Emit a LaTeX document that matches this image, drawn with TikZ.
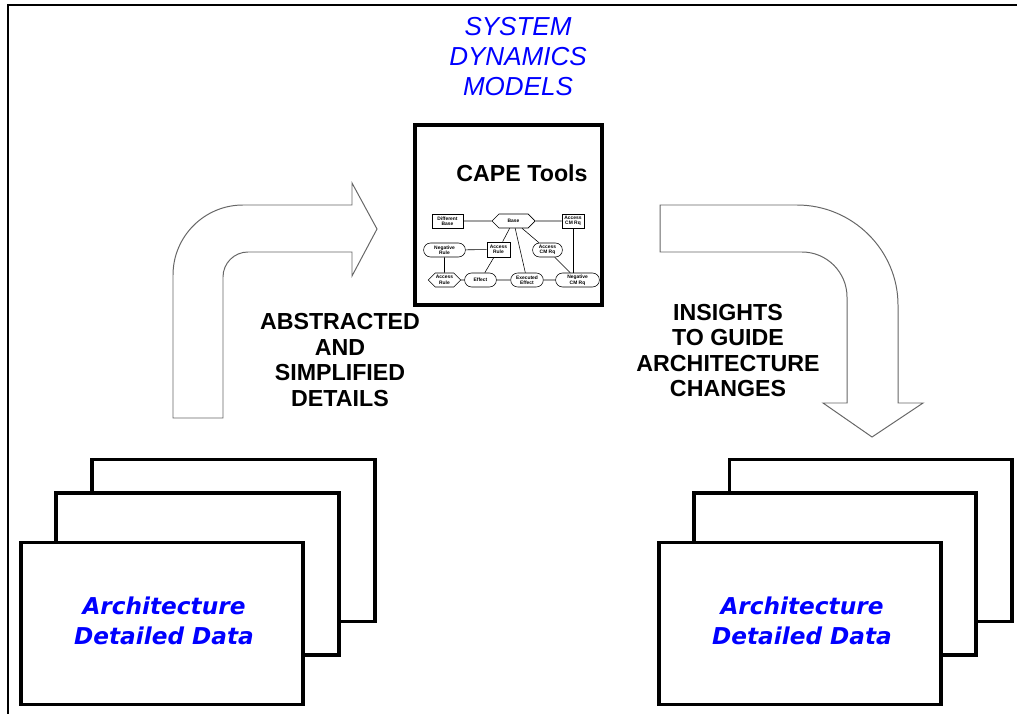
\documentclass[tikz,border=0pt]{standalone}
\usepackage{fontspec}
\setmainfont{Liberation Sans}
\newfontfamily\dvfont{DejaVu Sans}
\usepackage{tikz}
\usetikzlibrary{shapes.misc, shapes.symbols, positioning}
\definecolor{sdblue}{RGB}{0,0,255}
\tikzset{
  page/.style={draw, fill=white, line width=2.8pt, minimum width=7.05cm, minimum height=4.05cm},
  bigarrow/.style={draw=black!60, line width=0.7pt, fill=white},
  caption/.style={font=\fontsize{16.5}{18.1}\selectfont\bfseries, align=center},
  datatext/.style={font=\dvfont\fontsize{16.5}{21.3}\selectfont\bfseries\itshape, text=sdblue, align=center},
  minibox/.style={draw, line width=0.4pt, inner sep=0.5pt, font=\fontsize{3.5}{3.9}\selectfont\bfseries, align=center, minimum height=0.35cm},
  minirnd/.style={minibox, rounded rectangle},
  minihex/.style={minibox, signal, signal to=east and west},
  minilink/.style={line width=0.4pt}
}

\begin{document}
\begin{tikzpicture}[x=0.025cm, y=-0.025cm]
  \useasboundingbox (0,0) rectangle (1017,714);
  % outer frame
  \draw[line width=1.1pt] (8,714) |- (1017,5);

  % heading
  \node[font=\fontsize{18.5}{21.3}\selectfont\itshape, text=sdblue, align=center] (title) at (518,57) {SYSTEM\\DYNAMICS\\MODELS};

  % left stack of data sheets
  \node[page] (lback) at (233.5,540.5) {};
  \node[page] (lmid) at (197.5,574) {};
  \node[page] (lfront) at (162,623.5) {};
  \node[datatext] (ldata) at (164,621) {Architecture\\Detailed Data};

  % right stack of data sheets
  \node[page] (rback) at (870.5,540.5) {};
  \node[page] (rmid) at (835,574) {};
  \node[page] (rfront) at (800,623.5) {};
  \node[datatext] (rdata) at (802,621) {Architecture\\Detailed Data};

  % tool box in the middle
  \node[draw, line width=2.8pt, minimum width=4.675cm, minimum height=4.5cm] (cape) at (508.5,215) {};
  \node[font=\fontsize{16.5}{18.1}\selectfont\bfseries] (capelabel) at (522,173) {CAPE Tools};

  % small model sketch inside the tool box
  \node[minibox, minimum width=0.78cm] (mdiff) at (447.5,221) {Different\\Base};
  \node[minihex, minimum width=1.08cm] (mbase) at (513.5,221) {Base};
  \node[minibox, minimum width=0.55cm] (macca) at (573,221) {Access\\CM Rq};
  \node[minirnd, minimum width=1.08cm] (mnegr) at (444.5,250) {Negative\\Rule};
  \node[minibox, minimum width=0.58cm, minimum height=0.38cm] (maccr) at (498.5,249.5) {Access\\Rule};
  \node[minirnd, minimum width=0.78cm] (maccc) at (547.5,250) {Access\\CM Rq};
  \node[minihex, minimum width=0.63cm] (maccb) at (444.5,280) {Access\\Rule};
  \node[minirnd, minimum width=0.83cm] (meff) at (480.5,280) {Effect};
  \node[minirnd, minimum width=0.85cm] (mexe) at (527,280) {Executed\\Effect};
  \node[minirnd, minimum width=1.13cm] (mnegc) at (577.5,280) {Negative\\CM Rq};

  \draw[minilink] (mdiff) -- (mbase);
  \draw[minilink] (mbase) -- (macca);
  \draw[minilink] (mbase) -- (maccr);
  \draw[minilink] (mbase) -- (mexe);
  \draw[minilink] (mbase) -- (maccc);
  \draw[minilink] (mnegr) -- (maccr);
  \draw[minilink] (mnegr) -- (maccb);
  \draw[minilink] (maccr) -- (meff);
  \draw[minilink] (maccb) -- (meff);
  \draw[minilink] (meff) -- (mexe);
  \draw[minilink] (mexe) -- (mnegc);
  \draw[minilink] (maccc) -- (mnegc);
  \draw[minilink] (macca.south) -- (macca.south |- mnegc.north);

  % bent block arrow going up into the tools
  \draw[bigarrow] (173,418) -- (173,275) .. controls (173,236.4) and (204.4,205) .. (243,205)
    -- (352,205) -- (352,183) -- (377,229) -- (352,276) -- (352,252) -- (248,252)
    .. controls (234.2,252) and (223,263.2) .. (223,277) -- (223,418) -- cycle;
  \node[caption] (abstr) at (340,360) {ABSTRACTED\\AND\\SIMPLIFIED\\DETAILS};

  % bent block arrow coming back down
  \draw[bigarrow] (660,205) -- (797,205) .. controls (852.2,205) and (898,249.8) .. (898,305)
    -- (898,403) -- (923,403) -- (872,437) -- (823,403) -- (847,403) -- (847,297)
    .. controls (847,272.2) and (826.8,252) .. (802,252) -- (660,252) -- cycle;
  \node[caption] (insight) at (728,350.5) {INSIGHTS\\TO GUIDE\\ARCHITECTURE\\CHANGES};
\end{tikzpicture}
\end{document}
